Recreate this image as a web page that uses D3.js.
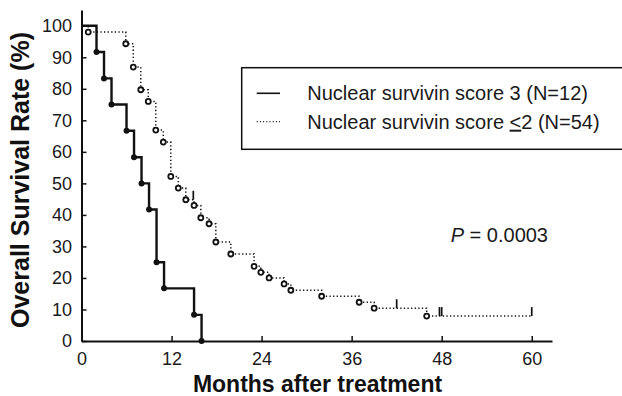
<!DOCTYPE html>
<html>
<head>
<meta charset="utf-8">
<script src="https://cdnjs.cloudflare.com/ajax/libs/d3/7.8.5/d3.min.js"></script>
<style>
  body { margin: 0; background: #fff; }
  svg { display: block; font-family: "Liberation Sans", Arial, Helvetica, sans-serif; }
</style>
</head>
<body>
<svg id="chart" width="622" height="396"></svg>
<script>
// Nuclear survivin score 3 (N=12): event times (months) and survival (%)
const highTimes = [2, 3, 4, 6, 7, 8, 9, 10, 11, 15, 16];
const highSurv = [91.7, 83.3, 75, 66.7, 58.3, 50, 41.7, 25, 16.7, 8.3, 0];

// Nuclear survivin score <=2 (N=54)
const lowTimes = [0.9, 5.9, 6.9, 7.9, 8.9, 9.9, 10.9, 11.9, 12.9, 13.9, 15, 15.9, 17, 17.9, 19.9, 23, 23.9, 25, 27, 27.9, 32, 37, 39, 46];
const lowSurv = [98.0, 94.3, 86.9, 79.7, 76.0, 66.9, 63.1, 52.2, 48.5, 44.8, 43.0, 39.1, 37.2, 31.4, 27.6, 23.7, 21.8, 20.0, 18.1, 16.1, 14.2, 12.3, 10.4, 7.9];
const lowEnd = 60;

// censored observations of the score <=2 group
const censorTimes = [14.9, 42, 47.7, 48, 60];
const censorSurv = [44.8, 10.4, 7.9, 7.9, 7.9];

const xTicks = [0, 12, 24, 36, 48, 60];
const yTicks = [0, 10, 20, 30, 40, 50, 60, 70, 80, 90, 100];

const svg = d3.select('#chart');

const x = d3.scaleLinear().domain([0, 62.7]).range([81.5, 552]);
const y = d3.scaleLinear().domain([0, 105]).range([341, 10]);

// axes, ticks pointing inward
const yAxis = svg.append('g')
  .attr('transform', 'translate(' + x(0) + ',0)')
  .call(d3.axisLeft(y).tickValues(yTicks).tickSize(-5).tickSizeOuter(0).tickPadding(9.5));

const xAxis = svg.append('g')
  .attr('transform', 'translate(0,' + y(0) + ')')
  .call(d3.axisBottom(x).tickValues(xTicks).tickSize(-5).tickSizeOuter(0).tickPadding(11));

[xAxis, yAxis].forEach(a => {
  a.select('.domain').attr('stroke', '#111').attr('stroke-width', 2);
  a.selectAll('.tick line').attr('stroke', '#111').attr('stroke-width', 1.5);
  a.selectAll('.tick text')
    .attr('fill', '#1a1a1a')
    .style('font-size', '18px')
    .style('font-family', '"Liberation Sans", Arial, Helvetica, sans-serif');
});

// build step paths from the arrays
function steps(times, surv, endTime) {
  const pts = [[0, 100]];
  let prev = 100;
  times.forEach((t, i) => {
    pts.push([t, prev]);
    pts.push([t, surv[i]]);
    prev = surv[i];
  });
  if (endTime !== undefined) pts.push([endTime, prev]);
  return pts;
}

const line = d3.line().x(d => x(d[0])).y(d => y(d[1]));

svg.append('path')
  .datum(steps(lowTimes, lowSurv, lowEnd))
  .attr('d', line)
  .attr('fill', 'none')
  .attr('stroke', '#111')
  .attr('stroke-width', 1.5)
  .attr('stroke-dasharray', '1.3,2.3');

svg.append('path')
  .datum(steps(highTimes, highSurv))
  .attr('d', line)
  .attr('fill', 'none')
  .attr('stroke', '#111')
  .attr('stroke-width', 2.4);

// censor marks
svg.selectAll('line.censor')
  .data(censorTimes)
  .enter()
  .append('line')
  .attr('class', 'censor')
  .attr('x1', d => x(d))
  .attr('x2', d => x(d))
  .attr('y1', (d, i) => y(censorSurv[i]))
  .attr('y2', (d, i) => y(censorSurv[i]) - 9)
  .attr('stroke', '#111')
  .attr('stroke-width', 1.7);

// event markers
svg.selectAll('circle.low')
  .data(lowTimes)
  .enter()
  .append('circle')
  .attr('class', 'low')
  .attr('cx', d => x(d))
  .attr('cy', (d, i) => y(lowSurv[i]))
  .attr('r', 2.5)
  .attr('fill', '#fff')
  .attr('stroke', '#111')
  .attr('stroke-width', 1.8);

svg.selectAll('circle.high')
  .data(highTimes)
  .enter()
  .append('circle')
  .attr('class', 'high')
  .attr('cx', d => x(d))
  .attr('cy', (d, i) => y(highSurv[i]))
  .attr('r', 3)
  .attr('fill', '#111');

// axis titles
svg.append('text')
  .attr('x', 317.5)
  .attr('y', 391.5)
  .attr('text-anchor', 'middle')
  .style('font-size', '23px')
  .style('font-weight', 'bold')
  .attr('fill', '#111')
  .text('Months after treatment');

svg.append('text')
  .attr('transform', 'translate(29,180) rotate(-90)')
  .attr('text-anchor', 'middle')
  .style('font-size', '25px')
  .style('font-weight', 'bold')
  .attr('fill', '#111')
  .text('Overall Survival Rate (%)');

// legend (box runs off the right edge)
const legend = svg.append('g');
legend.append('rect')
  .attr('x', 241.7)
  .attr('y', 67.7)
  .attr('width', 400)
  .attr('height', 81.6)
  .attr('fill', '#fff')
  .attr('stroke', '#111')
  .attr('stroke-width', 1.5);

legend.append('line')
  .attr('x1', 256.7).attr('x2', 280)
  .attr('y1', 93.3).attr('y2', 93.3)
  .attr('stroke', '#111')
  .attr('stroke-width', 1.6);

legend.append('line')
  .attr('x1', 256.7).attr('x2', 280)
  .attr('y1', 121.7).attr('y2', 121.7)
  .attr('stroke', '#111')
  .attr('stroke-width', 1.2)
  .attr('stroke-dasharray', '1,2.2');

legend.append('text')
  .attr('x', 307.3)
  .attr('y', 100.3)
  .style('font-size', '20px')
  .attr('fill', '#1a1a1a')
  .text('Nuclear survivin score 3 (N=12)');

const t2 = legend.append('text')
  .attr('x', 307.3)
  .attr('y', 128.7)
  .style('font-size', '20px')
  .attr('fill', '#1a1a1a');
t2.append('tspan').text('Nuclear survivin score ');
t2.append('tspan').style('text-decoration', 'underline').text('<');
t2.append('tspan').text('2 (N=54)');

// p value
const p = svg.append('text')
  .attr('x', 450.7)
  .attr('y', 241.7)
  .style('font-size', '20px')
  .attr('fill', '#1a1a1a');
p.append('tspan').style('font-style', 'italic').text('P');
p.append('tspan').text(' = 0.0003');
</script>
</body>
</html>
